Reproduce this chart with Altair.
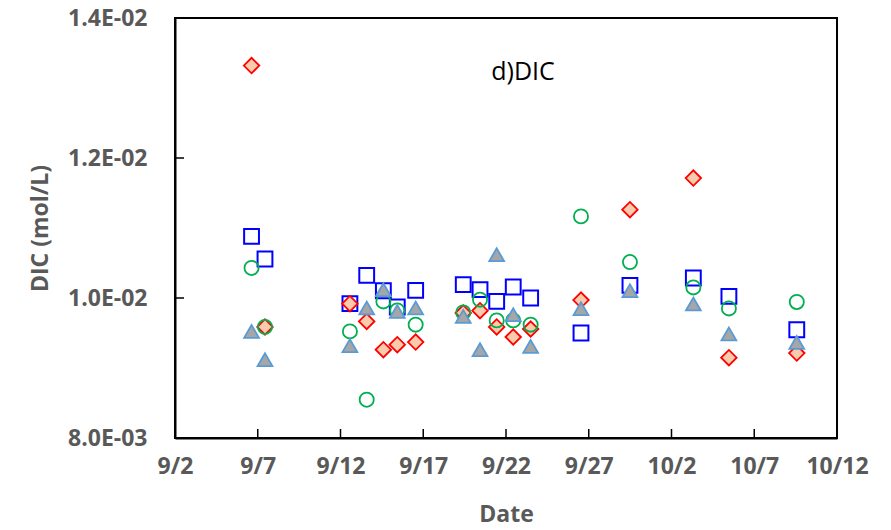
import altair as alt
import pandas as pd

# Sampling dates (with time of day)
dates = ["2020-09-06 15:00", "2020-09-07 10:30", "2020-09-12 13:40", "2020-09-13 14:00",
         "2020-09-14 14:10", "2020-09-15 10:20", "2020-09-16 13:00", "2020-09-19 10:00",
         "2020-09-20 10:20", "2020-09-21 10:30", "2020-09-22 10:30", "2020-09-23 11:45",
         "2020-09-26 12:45", "2020-09-29 11:45", "2020-10-03 07:40", "2020-10-05 11:15",
         "2020-10-09 13:40"]

diamond_vals = [0.01332, 0.009586, 0.009919, 0.009666, 0.009261, 0.009333, 0.009371, 0.009786,
                0.009819, 0.009586, 0.009443, 0.009557, 0.009971, 0.011261, 0.011714, 0.009147,
                0.009214]
square_vals = [0.010880, 0.010557, 0.009919, 0.010323, 0.010104, 0.009871, 0.010109, 0.010190,
               0.010119, 0.009951, 0.010157, 0.010000, 0.009500, 0.010180, 0.010286, 0.010023,
               0.009547]
circle_vals = [0.010429, 0.009586, 0.009523, 0.008547, 0.009951, 0.009823, 0.009619, 0.009794,
               0.009976, 0.009680, 0.009680, 0.009619, 0.011166, 0.010514, 0.010151, 0.009851,
               0.009943]
triangle_vals = [0.009523, 0.009119, 0.009319, 0.009857, 0.010119, 0.009809, 0.009857, 0.009737,
                 0.009261, 0.010619, 0.009761, 0.009309, 0.009847, 0.010104, 0.009914, 0.009486,
                 0.009366]

x_tick_labels = ["9/2", "9/7", "9/12", "9/17", "9/22", "9/27", "10/2", "10/7", "10/12"]
x_tick_days = [0, 5, 10, 15, 20, 25, 30, 35, 40]
y_tick_vals = [0.008, 0.010, 0.012, 0.014]
y_tick_labels = ["8.0E-03", "1.0E-02", "1.2E-02", "1.4E-02"]

start = pd.Timestamp("2020-09-02")
days = [(pd.Timestamp(d) - start).total_seconds() / 86400 for d in dates]

rows = []
for name, vals in [("square", square_vals), ("diamond", diamond_vals),
                   ("circle", circle_vals), ("triangle", triangle_vals)]:
    for d, dt, v in zip(days, dates, vals):
        rows.append({"day": d, "date": dt, "series": name, "DIC": v})
df = pd.DataFrame(rows)

FONT = "Open Sans"
GREY = "#595959"

x_label_expr = "[" + ",".join(f"'{l}'" for l in x_tick_labels) + "][round(datum.value/5)]"
y_label_expr = "[" + ",".join(f"'{l}'" for l in y_tick_labels) + "][round((datum.value-0.008)/0.002)]"

xscale = alt.Scale(domain=[0, 40], nice=False, zero=False)
yscale = alt.Scale(domain=[0.008, 0.014], nice=False, zero=False)

common = dict(ticks=False, grid=False, labelFlush=False, labelOverlap=False,
              domainColor="black", domainWidth=2,
              labelFont=FONT, labelFontSize=23, labelFontWeight="bold", labelColor=GREY,
              titleFont=FONT, titleFontSize=23, titleFontWeight="bold", titleColor=GREY,
              titleBaseline="middle", titleAlign="center")

xaxis = alt.Axis(values=x_tick_days, labelExpr=x_label_expr, title="Date",
                 labelPadding=17, titleX=331, titleY=76, **common)
yaxis = alt.Axis(values=y_tick_vals, labelExpr=y_label_expr, title="DIC (mol/L)",
                 labelPadding=28, titleX=-135, titleY=210, **common)

xq = alt.X("day:Q", scale=xscale, axis=xaxis)
yq = alt.Y("DIC:Q", scale=yscale, axis=yaxis)

base = alt.Chart(df)

squares = base.transform_filter(alt.datum.series == "square").mark_point(
    shape="square", filled=False, stroke="#0000FF", strokeWidth=2, size=220, opacity=1
).encode(x=xq, y=yq)

diamonds = base.transform_filter(alt.datum.series == "diamond").mark_point(
    shape="diamond", filled=True, fill="#F8CBAD", stroke="#FF0000", strokeWidth=1.8,
    size=240, opacity=1
).encode(x=xq, y=yq)

circles = base.transform_filter(alt.datum.series == "circle").mark_point(
    shape="circle", filled=False, stroke="#00B050", strokeWidth=1.8, size=200, opacity=1
).encode(x=xq, y=yq)

triangles = base.transform_filter(alt.datum.series == "triangle").mark_point(
    shape="triangle-up", filled=True, fill="#A6A6A6", stroke="#5B9BD5", strokeWidth=1.8,
    size=220, opacity=1
).encode(x=xq, y=yq)

# inward tick marks
yt = alt.Chart(pd.DataFrame({"DIC": y_tick_vals})).mark_rule(color="black", strokeWidth=1.5).encode(
    y=yq, x=alt.value(0), x2=alt.value(9))
xt = alt.Chart(pd.DataFrame({"day": x_tick_days})).mark_rule(color="black", strokeWidth=1.5).encode(
    x=xq, y=alt.value(420), y2=alt.value(411))

label = alt.Chart(pd.DataFrame({"t": ["d)DIC"]})).mark_text(
    font=FONT, fontSize=25, color="black", align="center", baseline="middle"
).encode(text="t:N", x=alt.value(348), y=alt.value(54))

chart = alt.layer(squares, yt, xt, diamonds, circles, triangles, label).properties(
    width=662, height=420, autosize="none", background="white",
    padding={"left": 175, "top": 18, "right": 54, "bottom": 92},
).configure_view(stroke="black", strokeWidth=2)

chart.save("out.html", embed_options={"renderer": "svg", "actions": False})
